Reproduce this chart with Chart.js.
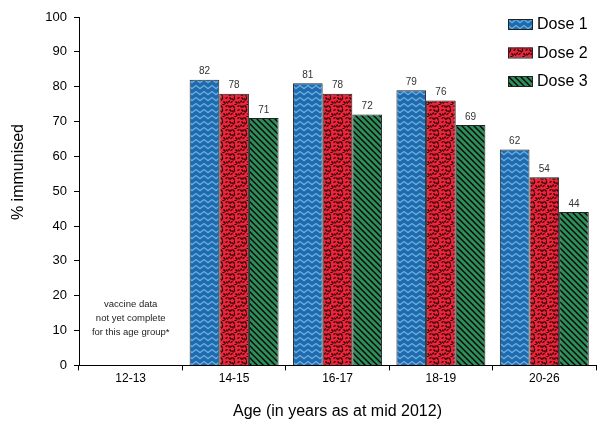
<!DOCTYPE html>
<html>
<head>
<meta charset="utf-8">
<script src="https://cdn.jsdelivr.net/npm/chart.js@4/dist/chart.umd.min.js"></script>
<style>
html,body{margin:0;padding:0;background:#fff;}
#wrap{width:603px;height:425px;}
</style>
</head>
<body>
<div id="wrap"><canvas id="c" width="603" height="425"></canvas></div>
<script>
const categories = ['12-13', '14-15', '16-17', '18-19', '20-26'];
const dose1 = [null, 82, 81, 79, 62];
const dose2 = [null, 78, 78, 76, 54];
const dose3 = [null, 71, 72, 69, 44];
const seriesNames = ['Dose 1', 'Dose 2', 'Dose 3'];
const yTicks = [0, 10, 20, 30, 40, 50, 60, 70, 80, 90, 100];
const noteLines = ['vaccine data', 'not yet complete', 'for this age group*'];
const yTitle = '% immunised';
const xTitle = 'Age (in years as at mid 2012)';

const FONT = "'Liberation Sans', Arial, sans-serif";

function makePattern(kind) {
  const c = document.createElement('canvas');
  const ctx = c.getContext('2d');
  if (kind === 'zigzag') {
    c.width = 8; c.height = 6;
    ctx.fillStyle = '#1f6aac';
    ctx.fillRect(0, 0, 8, 6);
    ctx.strokeStyle = '#6aaee2';
    ctx.lineWidth = 1.4;
    ctx.beginPath();
    ctx.moveTo(-2, 2.5); ctx.lineTo(0, 4.5); ctx.lineTo(4, 1.5); ctx.lineTo(8, 4.5); ctx.lineTo(10, 3);
    ctx.stroke();
  } else if (kind === 'dash') {
    c.width = 12; c.height = 12;
    ctx.fillStyle = '#ee2438';
    ctx.fillRect(0, 0, 12, 12);
    ctx.strokeStyle = '#000';
    ctx.lineWidth = 1.2;
    const segs = [[1,1,3,3],[6,0,6,3],[9,2,11,1],[2,6,4,5],[7,5,9,7],[0,9,1,11],[4,9,6,11],[9,10,11,9],[10,5,11,7],[4,2,5,4],[1,4,0,6],[6,8,8,8],[2,11,3,9]];
    ctx.beginPath();
    segs.forEach(s => { ctx.moveTo(s[0]+0.5, s[1]+0.5); ctx.lineTo(s[2]+0.5, s[3]+0.5); });
    ctx.stroke();
  } else {
    c.width = 6; c.height = 6;
    ctx.fillStyle = '#2e8d58';
    ctx.fillRect(0, 0, 6, 6);
    ctx.strokeStyle = '#000';
    ctx.lineWidth = 1.3;
    ctx.beginPath();
    ctx.moveTo(-1, -1); ctx.lineTo(7, 7);
    ctx.moveTo(-4, 2); ctx.lineTo(4, 10);
    ctx.moveTo(2, -4); ctx.lineTo(10, 4);
    ctx.stroke();
  }
  return ctx.createPattern(c, 'repeat');
}

const fills = [makePattern('zigzag'), makePattern('dash'), makePattern('diag')];

const labelsPlugin = {
  id: 'valueLabels',
  afterDatasetsDraw(chart) {
    const ctx = chart.ctx;
    ctx.save();
    ctx.font = '10px ' + FONT;
    ctx.fillStyle = '#333';
    ctx.textAlign = 'center';
    ctx.textBaseline = 'bottom';
    chart.data.datasets.forEach((ds, i) => {
      const meta = chart.getDatasetMeta(i);
      meta.data.forEach((bar, j) => {
        const v = ds.data[j];
        if (v == null) return;
        ctx.fillText(String(v), bar.x, bar.y - 3);
      });
    });
    // note for first category
    const xs = chart.scales.x;
    const ys = chart.scales.y;
    ctx.font = '9.5px ' + FONT;
    ctx.fillStyle = '#222';
    ctx.textBaseline = 'middle';
    const cx = xs.getPixelForValue(0);
    noteLines.forEach((t, k) => {
      ctx.fillText(t, cx, ys.getPixelForValue(17.5) + k * 14);
    });
    // y title
    ctx.font = '16px ' + FONT;
    ctx.fillStyle = '#000';
    ctx.translate(19, ys.getPixelForValue(55.5));
    ctx.rotate(-Math.PI / 2);
    ctx.fillText(yTitle, 0, 0);
    ctx.restore();

    // legend
    ctx.save();
    ctx.font = '16px ' + FONT;
    ctx.textAlign = 'left';
    ctx.textBaseline = 'middle';
    chart.data.datasets.forEach((ds, i) => {
      const y = 24 + i * 28.5;
      ctx.fillStyle = ds.backgroundColor;
      ctx.fillRect(508, y - 5, 25, 10);
      ctx.strokeStyle = '#222';
      ctx.lineWidth = 1;
      ctx.strokeRect(508.5, y - 4.5, 24, 10);
      ctx.fillStyle = '#000';
      ctx.fillText(ds.label, 537, y + 1);
    });
    ctx.restore();
  }
};

new Chart(document.getElementById('c'), {
  type: 'bar',
  data: {
    labels: categories,
    datasets: [
      { label: seriesNames[0], data: dose1, backgroundColor: fills[0] },
      { label: seriesNames[1], data: dose2, backgroundColor: fills[1] },
      { label: seriesNames[2], data: dose3, backgroundColor: fills[2] }
    ].map(d => Object.assign(d, { borderColor: '#222', borderWidth: 1, borderSkipped: 'bottom', barPercentage: 1.0, categoryPercentage: 0.86 }))
  },
  options: {
    responsive: false,
    animation: false,
    layout: { padding: { left: 0, right: 7, top: 17, bottom: 0 } },
    plugins: { legend: { display: false }, tooltip: { enabled: false } },
    scales: {
      x: {
        grid: { display: true, drawOnChartArea: false, drawTicks: true, tickLength: 5, tickColor: '#000', offset: true },
        border: { display: true, color: '#000', width: 1 },
        ticks: { color: '#000', font: { size: 12, family: FONT }, padding: 1, maxRotation: 0 },
        title: { display: true, text: xTitle, color: '#000', font: { size: 16, family: FONT }, padding: { top: 15, bottom: 4 } }
      },
      y: {
        min: 0, max: 100,
        afterBuildTicks(scale) { scale.ticks = yTicks.map(v => ({ value: v })); },
        afterFit(scale) { scale.width = 79; },
        grid: { display: true, drawOnChartArea: false, drawTicks: true, tickLength: 5, tickColor: '#000' },
        border: { display: true, color: '#000', width: 1 },
        ticks: { color: '#000', font: { size: 13, family: FONT }, padding: 7 }
      }
    }
  },
  plugins: [labelsPlugin]
});
</script>
</body>
</html>
